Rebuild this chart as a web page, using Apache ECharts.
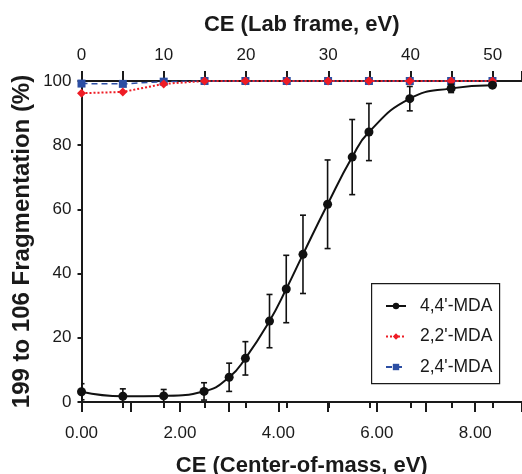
<!DOCTYPE html>
<html><head><meta charset="utf-8">
<script src="https://cdn.jsdelivr.net/npm/echarts@6/dist/echarts.min.js"></script>
<style>html,body{margin:0;padding:0;background:#fff}#c{width:522px;height:474px}</style>
</head><body><div id="c"></div>
<script>
// Center-of-mass collision energies (eV) for 4,4'-MDA
const cm44 = [0, 0.84, 1.67, 2.49, 3.00, 3.33, 3.82, 4.16, 4.50, 5.00, 5.50, 5.84, 6.67, 7.51, 8.35];
const frag44 = [3.2, 1.8, 1.9, 3.3, 7.7, 13.6, 25.2, 35.2, 46.0, 61.6, 76.3, 84.1, 94.5, 97.7, 98.7];
const err44 = [2.5, 2.3, 2.0, 2.7, 4.4, 5.2, 8.3, 10.5, 12.2, 13.8, 11.7, 8.9, 3.8, 1.3, 0.6];
// Center-of-mass energies for the other two isomers
const cmOther = [0, 0.84, 1.67, 2.50, 3.33, 4.17, 5.01, 5.84, 6.67, 7.51, 8.35];
const frag22 = [96.2, 96.6, 99.1, 100, 100, 100, 100, 100, 100, 100, 100];
const frag24 = [99.2, 99.1, 99.8, 100, 100, 100, 100, 100, 100, 100, 100];
const names = ["4,4'-MDA", "2,2'-MDA", "2,4'-MDA"];
const yTicks = [0, 20, 40, 60, 80, 100];

const FONT = 'Liberation Sans, Arial, sans-serif';
const RED = '#ee1c25', BLUE = '#2c4ea3';

const pts44 = cm44.map((x, i) => [x, frag44[i]]);
const bars44 = cm44.map((x, i) => [x, frag44[i] - err44[i], frag44[i] + err44[i]]);
const pts22 = cmOther.map((x, i) => [x, frag22[i]]);
const pts24 = cmOther.map((x, i) => [x, frag24[i]]);

const chart = echarts.init(document.getElementById('c'), null, {renderer: 'canvas'});
chart.setOption({
  animation: false,
  backgroundColor: '#fff',
  textStyle: {fontFamily: FONT},
  grid: {left: 81.5, right: 0, top: 81, bottom: 72, containLabel: false, outerBoundsMode: 'none'},
  xAxis: [
    {
      type: 'value', position: 'bottom', min: 0, max: 8.95, interval: 1,
      name: 'CE (Center-of-mass, eV)', nameLocation: 'middle', nameGap: 53, nameMoveOverlap: false,
      nameTextStyle: {fontFamily: FONT, fontSize: 22, fontWeight: 'bold', color: '#1a1a1a'},
      axisLine: {onZero: false, lineStyle: {color: '#1a1a1a', width: 2}},
      axisTick: {length: 10, lineStyle: {color: '#1a1a1a', width: 2}},
      axisLabel: {margin: 23, fontSize: 17, color: '#1a1a1a', fontFamily: FONT,
        formatter: v => (Math.abs(v % 2) < 1e-9 ? v.toFixed(2) : '')},
      splitLine: {show: false}
    },
    {
      type: 'value', position: 'top', min: 0, max: 53.55, interval: 5,
      name: 'CE (Lab frame, eV)', nameLocation: 'middle', nameGap: 45, nameMoveOverlap: false,
      nameTextStyle: {fontFamily: FONT, fontSize: 22, fontWeight: 'bold', color: '#1a1a1a'},
      axisLine: {onZero: false, lineStyle: {color: '#1a1a1a', width: 2}},
      axisTick: {length: 10, lineStyle: {color: '#1a1a1a', width: 2}},
      axisLabel: {margin: 17, fontSize: 17, color: '#1a1a1a', fontFamily: FONT,
        formatter: v => (Math.abs(v % 10) < 1e-9 ? String(v) : '')},
      splitLine: {show: false}
    },
    {
      type: 'value', position: 'top', min: 0, max: 53.55, interval: 5,
      axisLine: {show: false},
      axisTick: {inside: true, length: 6, lineStyle: {color: '#1a1a1a', width: 2}},
      axisLabel: {show: false},
      splitLine: {show: false}
    }
  ],
  yAxis: {
    type: 'value', min: 0, max: 100, interval: 20,
    name: '199 to 106 Fragmentation (%)', nameLocation: 'middle', nameGap: 47.5, nameRotate: 90,
    nameMoveOverlap: false,
    nameTextStyle: {fontFamily: FONT, fontSize: 24, fontWeight: 'bold', color: '#1a1a1a'},
    axisLine: {show: true, onZero: false, lineStyle: {color: '#1a1a1a', width: 2}},
    axisTick: {show: true, length: 4, lineStyle: {color: '#1a1a1a', width: 2}},
    axisLabel: {margin: 10, fontSize: 17, color: '#1a1a1a', fontFamily: FONT,
      formatter: v => (yTicks.indexOf(v) >= 0 ? String(v) : '')},
    splitLine: {show: false}
  },
  graphic: [{
    type: 'rect', left: 371, top: 283, z: 0,
    shape: {width: 128, height: 100},
    style: {fill: '#fff', stroke: '#1a1a1a', lineWidth: 1.2}
  }],
  legend: {
    data: names, orient: 'vertical', left: 385, top: 297, itemGap: 12.5,
    itemWidth: 20, itemHeight: 8, padding: 0,
    textStyle: {fontSize: 17.5, color: '#1a1a1a', fontFamily: FONT, padding: [0, 0, 0, 9]}
  },
  series: [
    {
      name: names[2], type: 'line', data: pts24, xAxisIndex: 0,
      symbol: 'rect', symbolSize: 8, z: 2,
      lineStyle: {color: BLUE, width: 1.5, type: [6, 4]},
      itemStyle: {color: BLUE}
    },
    {
      name: names[1], type: 'line', data: pts22, xAxisIndex: 0,
      symbol: 'diamond', symbolSize: 9, z: 3,
      lineStyle: {color: RED, width: 2, type: [2, 2]},
      itemStyle: {color: RED}
    },
    {
      type: 'custom', xAxisIndex: 0, z: 4, clip: true,
      data: bars44, encode: {x: 0, y: [1, 2]},
      renderItem: function (params, api) {
        const x = api.value(0), lo = api.value(1), hi = api.value(2);
        const a = api.coord([x, hi]), b = api.coord([x, lo]);
        const w = 3;
        const st = {stroke: '#111', lineWidth: 1.6};
        return {type: 'group', children: [
          {type: 'line', shape: {x1: a[0], y1: a[1], x2: b[0], y2: b[1]}, style: st},
          {type: 'line', shape: {x1: a[0] - w, y1: a[1], x2: a[0] + w, y2: a[1]}, style: st},
          {type: 'line', shape: {x1: b[0] - w, y1: b[1], x2: b[0] + w, y2: b[1]}, style: st}
        ]};
      }
    },
    {
      name: names[0], type: 'line', data: pts44, xAxisIndex: 0,
      smooth: 0.5,
      symbol: 'circle', symbolSize: 9, z: 5,
      lineStyle: {color: '#111', width: 2},
      itemStyle: {color: '#111'}
    }
  ]
});
</script>
</body></html>
